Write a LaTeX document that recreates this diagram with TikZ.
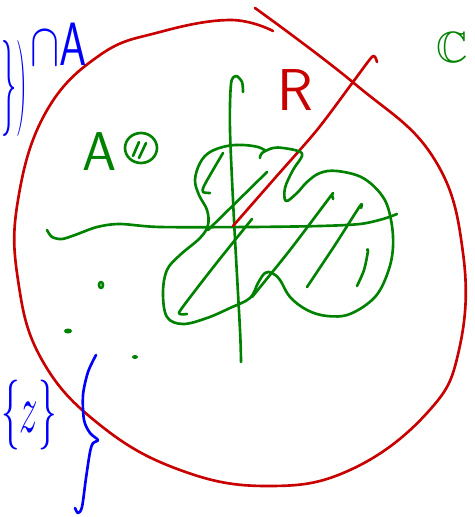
\documentclass[tikz,border=0pt]{standalone}
\usepackage{amsmath}
\usepackage{amssymb}
\usepackage{tikz}
\usetikzlibrary{calc}
\definecolor{tintaroja}{RGB}{200,0,0}
\definecolor{tintaverde}{RGB}{0,130,0}
\definecolor{tintaazul}{RGB}{0,0,250}
\tikzset{>=stealth,
  trazo/.style={line width=1.5pt, line cap=round, line join=round},
  letra/.style={inner sep=0pt, font=\Huge}}

\begin{document}
\begin{tikzpicture}[x=0.02cm,y=-0.02cm]
        \useasboundingbox (0,0) rectangle (475,517);

        % Big red loop (the region C)
        \draw[tintaroja,trazo] plot[smooth,tension=0.7] coordinates {(255,8) (355,84) (433,157) (463,253) (459,350) (427,413) (350,470) (267,486) (180,470) (100,425) (42,360) (18,280) (18,200) (46,112) (100,55) (160,32) (230,20) (273,31)};

        % Axes
        \draw[tintaverde,trazo] plot[smooth] coordinates {(47,230) (52,237) (62,239) (75,235) (97,227) (120,224) (160,227) (250,227) (320,226) (360,224) (383,219) (397,214)};
        \draw[tintaverde,trazo] plot[smooth] coordinates {(241,362) (240,330) (234,220) (230,130) (231,84) (236,76) (242,82) (243,92)};

        % Ray from the origin
        \draw[tintaroja,trazo] plot[smooth] coordinates {(233,226) (275,178) (317,130) (353,82) (371,58) (375,57) (377,62)};

        % The set A: outline
        \draw[tintaverde,trazo] plot[smooth,tension=0.6] coordinates {(260,158) (262,153) (273,148) (283,148) (298,151) (302,156) (293,170) (285,188) (286,201) (297,193) (307,182) (320,173) (337,171) (363,178) (383,197) (391,220) (393,247) (388,272) (375,297) (350,314) (327,316) (307,310) (290,297) (280,280) (272,273) (265,273) (258,283) (250,298) (230,308) (207,318) (183,324) (167,317) (163,293) (167,270) (180,255) (200,238) (208,225) (207,210) (199,195) (195,180) (200,163) (210,152) (227,146) (243,145) (258,147) (266,151)};

        % The set A: hatching
        \draw[tintaverde,trazo] plot[smooth] coordinates {(223,153) (213,170) (204,186) (203,192) (210,193)};
        \draw[tintaverde,trazo] (267,172) -- (208,230);
        \draw[tintaverde,trazo] plot[smooth] coordinates {(187,314) (180,314) (182,308) (215,265) (252,219)};
        \draw[tintaverde,trazo] plot[smooth] coordinates {(252,297) (290,250) (330,197) (332,195) (333,199)};
        \draw[tintaverde,trazo] plot[smooth] coordinates {(307,287) (335,245) (360,206) (361,208)};
        \draw[tintaverde,trazo] plot[smooth] coordinates {(357,286) (364,270) (368,251) (367,250)};

        % Labels
        \node[letra,tintaverde,scale=1.25] (setA) at (100,152) {$\mathsf{A}$};
        \draw[tintaverde,trazo] (141,148) ellipse (16 and 15);
        \draw[tintaverde,trazo] (133,156) -- (139,142) (139,158) -- (146,143);
        \node[letra,tintaroja,scale=1.35] (rayR) at (295,90) {$\mathsf{R}$};
        \node[letra,tintaverde] (plane) at (452,47) {$\mathbb{C}$};

        % Points
        \draw[tintaverde,trazo] (101,285) ellipse (2 and 3);
        \fill[tintaverde] (68,331) ellipse (4 and 2.5);
        \fill[tintaverde] (135,357) ellipse (3 and 2);

        % Preimage notes
        \node[letra,tintaazul,xscale=0.7,yscale=2.2,anchor=west] (braces) at (1,88) {$\})$};
        \node[letra,tintaazul,yscale=1.4,anchor=west] (capA) at (30,44) {$\cap\mathsf{A}$};
        \node[letra,tintaazul,xscale=0.85,yscale=1.6,anchor=west] (point) at (1,415) {$\{z\}$};
        \draw[tintaazul,trazo] plot[smooth] coordinates {(96,355) (88,372) (83,395) (84,420) (90,433) (98,440) (93,443) (90,452) (86,478) (82,507) (78,513) (75,508)};
      \end{tikzpicture}
\end{document}
